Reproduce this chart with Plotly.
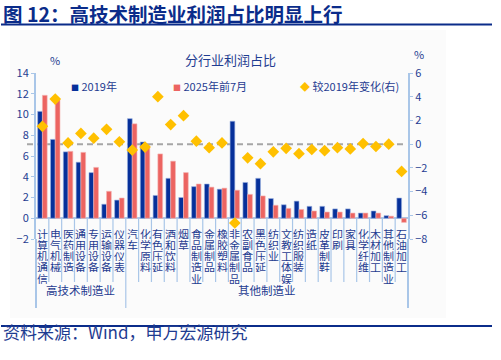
import plotly.graph_objects as go

# ---------------- data ----------------
categories = ["计算机通信", "电气机械", "医药制造", "通用设备", "专用设备", "运输设备", "仪器仪表",
              "汽车", "化学原料", "有色压延", "酒和饮料", "烟草", "食品制造业", "金属制品", "橡胶塑料",
              "非金属制品", "农副食品", "黑色压延", "纺织业", "文教工体娱", "纺织服装", "造纸", "皮革制鞋",
              "印刷", "家具", "化学纤维", "木材加工", "其他制造业", "石油加工"]
groups = ["高技术制造业", "其他制造业"]
group_sizes = [7, 22]

share_2019 = [10.3, 7.6, 6.4, 5.4, 4.4, 1.35, 1.75, 9.6, 7.35, 2.2, 3.85, 2.0, 3.05, 3.3, 2.8,
              9.35, 3.45, 3.85, 1.9, 1.3, 1.65, 1.15, 1.15, 0.9, 0.9, 0.5, 0.7, 0.25, 1.95]
share_2025 = [11.85, 11.4, 6.45, 6.35, 4.9, 2.6, 1.95, 9.1, 7.0, 6.2, 5.5, 4.4, 3.3, 3.0, 2.9,
              2.7, 2.3, 2.15, 1.25, 0.95, 0.85, 0.7, 0.6, 0.6, 0.5, 0.5, 0.5, 0.2, -0.4]
change_vs_2019 = [1.5, 3.8, 0.1, 0.9, 0.5, 1.25, 0.2, -0.5, -0.25, 4.0, 1.65, 2.4, 0.25, -0.3, 0.1,
                  -6.65, -1.15, -1.65, -0.65, -0.35, -0.8, -0.45, -0.55, -0.3, -0.4, 0.05, -0.2, 0.0, -2.3]

series_names = ["2019年", "2025年前7月", "较2019年变化(右)"]
left_ticks = list(range(-2, 15, 2))
right_ticks = list(range(-8, 7, 2))

# ---------------- style ----------------
W, H = 501, 360
L, R, T, B = 36, 408, 73, 239
FONT = "Noto Sans CJK SC, Noto Sans, sans-serif"
NAVY = "#0B2C8A"
TXT = "#1F3C91"
BLUE = "#06309A"
PINK = "#EC6461"
GOLD = "#FFC000"
AXIS = "#A9C6E8"


def px_x(x):
    return (x - L) / (R - L)


def px_y(y):
    return (B - y) / (B - T)


fig = go.Figure()
fig.add_trace(go.Bar(x=categories, y=share_2019, name=series_names[0], marker_color=BLUE,
                     marker_line=dict(color="#9DB4E0", width=0.6), yaxis="y"))
fig.add_trace(go.Bar(x=categories, y=share_2025, name=series_names[1], marker_color=PINK,
                     marker_line=dict(color="#F5B3B1", width=0.6), yaxis="y"))
fig.add_trace(go.Scatter(x=categories, y=change_vs_2019, name=series_names[2], mode="markers",
                         marker=dict(symbol="diamond", size=9, color=GOLD), yaxis="y2",
                         cliponaxis=False))

shapes = []
# faint background panel
shapes.append(dict(type="rect", xref="paper", yref="paper", x0=px_x(10), x1=px_x(446),
                   y0=px_y(318), y1=px_y(30), fillcolor="#FBFBFB", line_width=0, layer="below"))
# title underline and bottom rule
shapes.append(dict(type="line", xref="paper", yref="paper", x0=px_x(1), x1=px_x(492),
                   y0=px_y(24.5), y1=px_y(24.5), line=dict(color=NAVY, width=2.2)))
shapes.append(dict(type="line", xref="paper", yref="paper", x0=px_x(1), x1=px_x(492),
                   y0=px_y(326), y1=px_y(326), line=dict(color=NAVY, width=2.2)))
# dashed reference line at right-axis 0
shapes.append(dict(type="line", xref="paper", yref="y2", x0=px_x(27), x1=px_x(406), y0=0, y1=0,
                   line=dict(color="#A6A6A6", width=2, dash="6px,4px"), layer="below"))

# category separators
y_axis0 = (0 - left_ticks[0]) / (left_ticks[-1] - left_ticks[0])
boundaries = []
acc = 0
for g in group_sizes[:-1]:
    acc += g
    boundaries.append(acc - 0.5)
for i in range(len(categories) - 1):
    xb = i + 0.5
    long = xb in boundaries
    shapes.append(dict(type="line", xref="x", yref="paper", x0=xb, x1=xb, y0=y_axis0,
                       y1=px_y(308 if long else 282), line=dict(color=AXIS, width=1.2)))
for xd in (0, 1):
    shapes.append(dict(type="line", xref="x domain", yref="paper", x0=xd, x1=xd, y0=0,
                       y1=px_y(308), line=dict(color=AXIS, width=2)))

annotations = []
# vertical category labels (one char per line)
for cat in categories:
    for j, ch in enumerate(cat):
        annotations.append(dict(x=cat, y=0, xref="x", yref="y", text=ch, showarrow=False,
                                yanchor="middle", xanchor="center", yshift=-(15.5 + 11.2 * j),
                                height=10, borderpad=0,
                                font=dict(family=FONT, size=11, color=TXT)))
# group labels
start = 0
for g, n in zip(groups, group_sizes):
    annotations.append(dict(x=start + (n - 1) / 2, y=px_y(299.5), xref="x", yref="paper", text=g,
                            showarrow=False, font=dict(family=FONT, size=11.5, color=TXT)))
    start += n

# title etc
annotations.append(dict(x=px_x(1), y=px_y(13.5), xref="paper", yref="paper", xanchor="left",
                        yanchor="middle", showarrow=False, text="<b>图 12：高技术制造业利润占比明显上行</b>",
                        font=dict(family=FONT, size=19.5, color=NAVY)))
annotations.append(dict(x=px_x(230.5), y=px_y(48.5), xref="paper", yref="paper", showarrow=False,
                        text="分行业利润占比", font=dict(family=FONT, size=13, color=TXT)))
annotations.append(dict(x=px_x(48), y=px_y(50), xref="paper", yref="paper", showarrow=False,
                        text="%", font=dict(family=FONT, size=11, color=TXT)))
annotations.append(dict(x=px_x(426), y=px_y(44), xref="paper", yref="paper", showarrow=False,
                        text="%", font=dict(family=FONT, size=11, color=TXT)))
annotations.append(dict(x=px_x(1), y=px_y(346), xref="paper", yref="paper", xanchor="left",
                        showarrow=False, text="资料来源：Wind，申万宏源研究",
                        font=dict(family=FONT, size=17, color=TXT)))

# legend (custom)
legend_items = [(series_names[0], BLUE, "■", 69), (series_names[1], PINK, "■", 171),
                (series_names[2], GOLD, "◆", 298)]
for name, col, sym, xp in legend_items:
    annotations.append(dict(x=px_x(xp), y=px_y(76), xref="paper", yref="paper", xanchor="left",
                            showarrow=False,
                            text=f"<span style='color:{col};font-size:{8 if sym == '■' else 10}px'>{sym}</span> {name}",
                            font=dict(family=FONT, size=11, color=TXT)))

fig.update_layout(
    width=W, height=H,
    margin=dict(l=L, r=W - R, t=T, b=H - B, pad=0),
    paper_bgcolor="white", plot_bgcolor="rgba(0,0,0,0)",
    barmode="group", bargap=0.26, bargroupgap=0.0,
    showlegend=False,
    font=dict(family=FONT, color=TXT),
    xaxis=dict(range=[-0.5, len(categories) - 0.5], showticklabels=False, showline=False,
               ticks="", showgrid=False, zeroline=False),
    yaxis=dict(range=[left_ticks[0], left_ticks[-1]], tickvals=left_ticks, showgrid=False,
               showline=True, linecolor=AXIS, linewidth=2, ticks="outside", ticklen=3,
               tickcolor=AXIS, tickfont=dict(family=FONT, size=11, color=TXT),
               zeroline=True, zerolinecolor=AXIS, zerolinewidth=1.5),
    yaxis2=dict(range=[right_ticks[0], right_ticks[-1]], tickvals=right_ticks, overlaying="y",
                side="right", showgrid=False, showline=True, linecolor=AXIS, linewidth=2,
                ticks="outside", ticklen=3, tickcolor=AXIS,
                tickfont=dict(family=FONT, size=11, color=TXT), zeroline=False),
    shapes=shapes,
    annotations=annotations,
)

fig.write_html("out.html", config={"displayModeBar": False},
               post_script="document.body.style.margin='0';document.body.style.padding='0';")
